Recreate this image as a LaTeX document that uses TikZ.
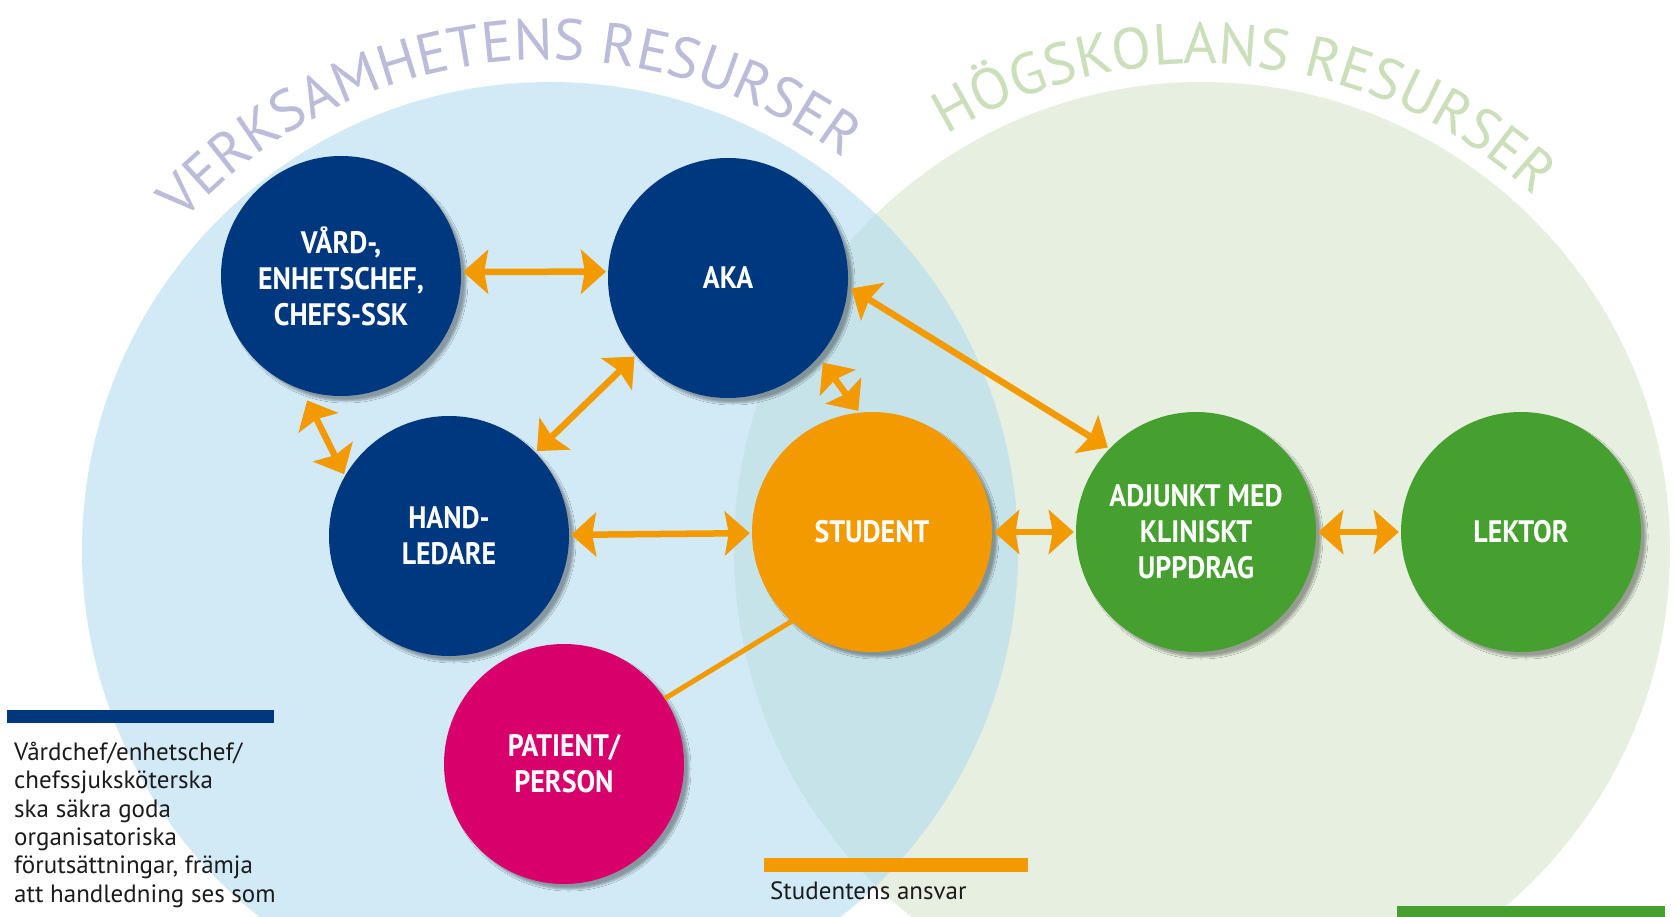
\documentclass[tikz,border=0pt]{standalone}
\usepackage{fontspec}
\setmainfont{PT Sans}
\newfontfamily\nodefont[FakeStretch=0.9]{PT Sans}
\usepackage{tikz}
\usetikzlibrary{arrows.meta}
\usetikzlibrary{positioning}
\usetikzlibrary{decorations.text}
\usetikzlibrary{shadows.blur}
\definecolor{blueres}{HTML}{D1EAF6}
\definecolor{greenres}{HTML}{E7F0E0}
\definecolor{bothres}{HTML}{C6E3EA}
\definecolor{navyres}{HTML}{00387F}
\definecolor{orangeres}{HTML}{F29A00}
\definecolor{greennode}{HTML}{46A02F}
\definecolor{magentares}{HTML}{D8006A}
\definecolor{lavres}{HTML}{BBBBDA}
\definecolor{lightgreenres}{HTML}{CADFBA}
\definecolor{bodytext}{HTML}{1B1B1B}
\tikzset{
  resnode/.style = {circle, align=center, inner sep=0pt, text=white,
    minimum size=240pt, font=\nodefont\bfseries\fontsize{31}{36}\selectfont,
    blur shadow={shadow xshift=5pt, shadow yshift=-5pt, shadow blur steps=6,
    shadow opacity=35}},
  res_b/.style = {resnode, fill=navyres},% verksamhet, mörkblå nod
  res_o/.style = {resnode, fill=orangeres},% student
  res_g/.style = {resnode, fill=greennode},% högskola, grön nod
  res_p/.style = {resnode, fill=magentares},% patient
  biarrow/.style = {{Stealth[length=25pt,width=44pt,inset=4pt]}-{Stealth[length=25pt,width=44pt,inset=4pt]},
    draw=orangeres, line width=6.5pt, shorten <=2pt, shorten >=2pt},
  bodynode/.style = {inner sep=0pt, align=left, text=bodytext,
    font=\fontsize{25}{28.3}\selectfont}
}

\begin{document}
\begin{tikzpicture}[x=1pt,y=1pt]
\useasboundingbox (0,0) rectangle (1678,-917);
\clip (0,0) rectangle (1678,-917);
\fill[white] (0,0) rectangle (1678,-917);

% resurser
\fill[greenres] (1202,-550) circle[radius=468];
\fill[blueres] (550,-550) circle[radius=468];
\begin{scope}
  \clip (550,-550) circle[radius=468];
  \fill[bothres] (1202,-550) circle[radius=468];
\end{scope}

\path[decorate, decoration={text along path, text align=center,
  text={|\color{lavres}\fontsize{58}{58}\selectfont|VERKSAMHETENS RESURSER}}]
  ([shift={(155:492)}]548,-552) arc[start angle=155, end angle=36, radius=492];
\path[decorate, decoration={text along path, text align=center,
  text={|\color{lightgreenres}\fontsize{58}{58}\selectfont|HÖGSKOLANS RESURSER}}]
  ([shift={(140:488)}]1200,-552) arc[start angle=140, end angle=28, radius=488];

% texter under
\fill[navyres] (7,-710) rectangle (274,-723);
\node[bodynode, anchor=base west] (vardtext) at (14,-902)
  {Vårdchef/enhetschef/\\chefssjuksköterska\\ska säkra goda\\organisatoriska\\förutsättningar, främja\\att handledning ses som};
\fill[orangeres] (764,-858) rectangle (1028,-872);
\node[bodynode, anchor=base west] (studtext) at (770,-899) {Studentens ansvar};
\fill[greennode] (1397,-906) rectangle (1665,-920);

\node [res_b] (vard) at (341,-276) {VÅRD-,\\ENHETSCHEF,\\CHEFS-SSK};
\node [res_b] (aka) at (728,-278) {AKA};
\node [res_b] (hand) at (449,-536) {HAND-\\LEDARE};
\node [res_o] (student) at (872,-532) {STUDENT};
\node [res_g] (adj) at (1196,-532) {ADJUNKT MED\\KLINISKT\\UPPDRAG};
\node [res_g] (lektor) at (1521,-532) {LEKTOR};
\node [res_p] (patient) at (564,-764) {PATIENT/\\PERSON};

\draw[biarrow] (vard.2) -- (aka.177);
\draw[biarrow, shorten <=12pt] (vard.-109) -- (hand.150);
\draw[biarrow] (aka.220) -- (hand.44);
\draw[biarrow, shorten <=7pt] (aka.-41) -- (student.96);
\draw[biarrow, shorten <=4pt] (aka.-4) -- (adj.136);
\draw[biarrow] (hand) -- (student);
\draw[biarrow] (student) -- (adj);
\draw[biarrow] (adj) -- (lektor);
\draw[draw=orangeres, line width=5pt] (student.228) -- (patient.33);
\end{tikzpicture}
\end{document}
